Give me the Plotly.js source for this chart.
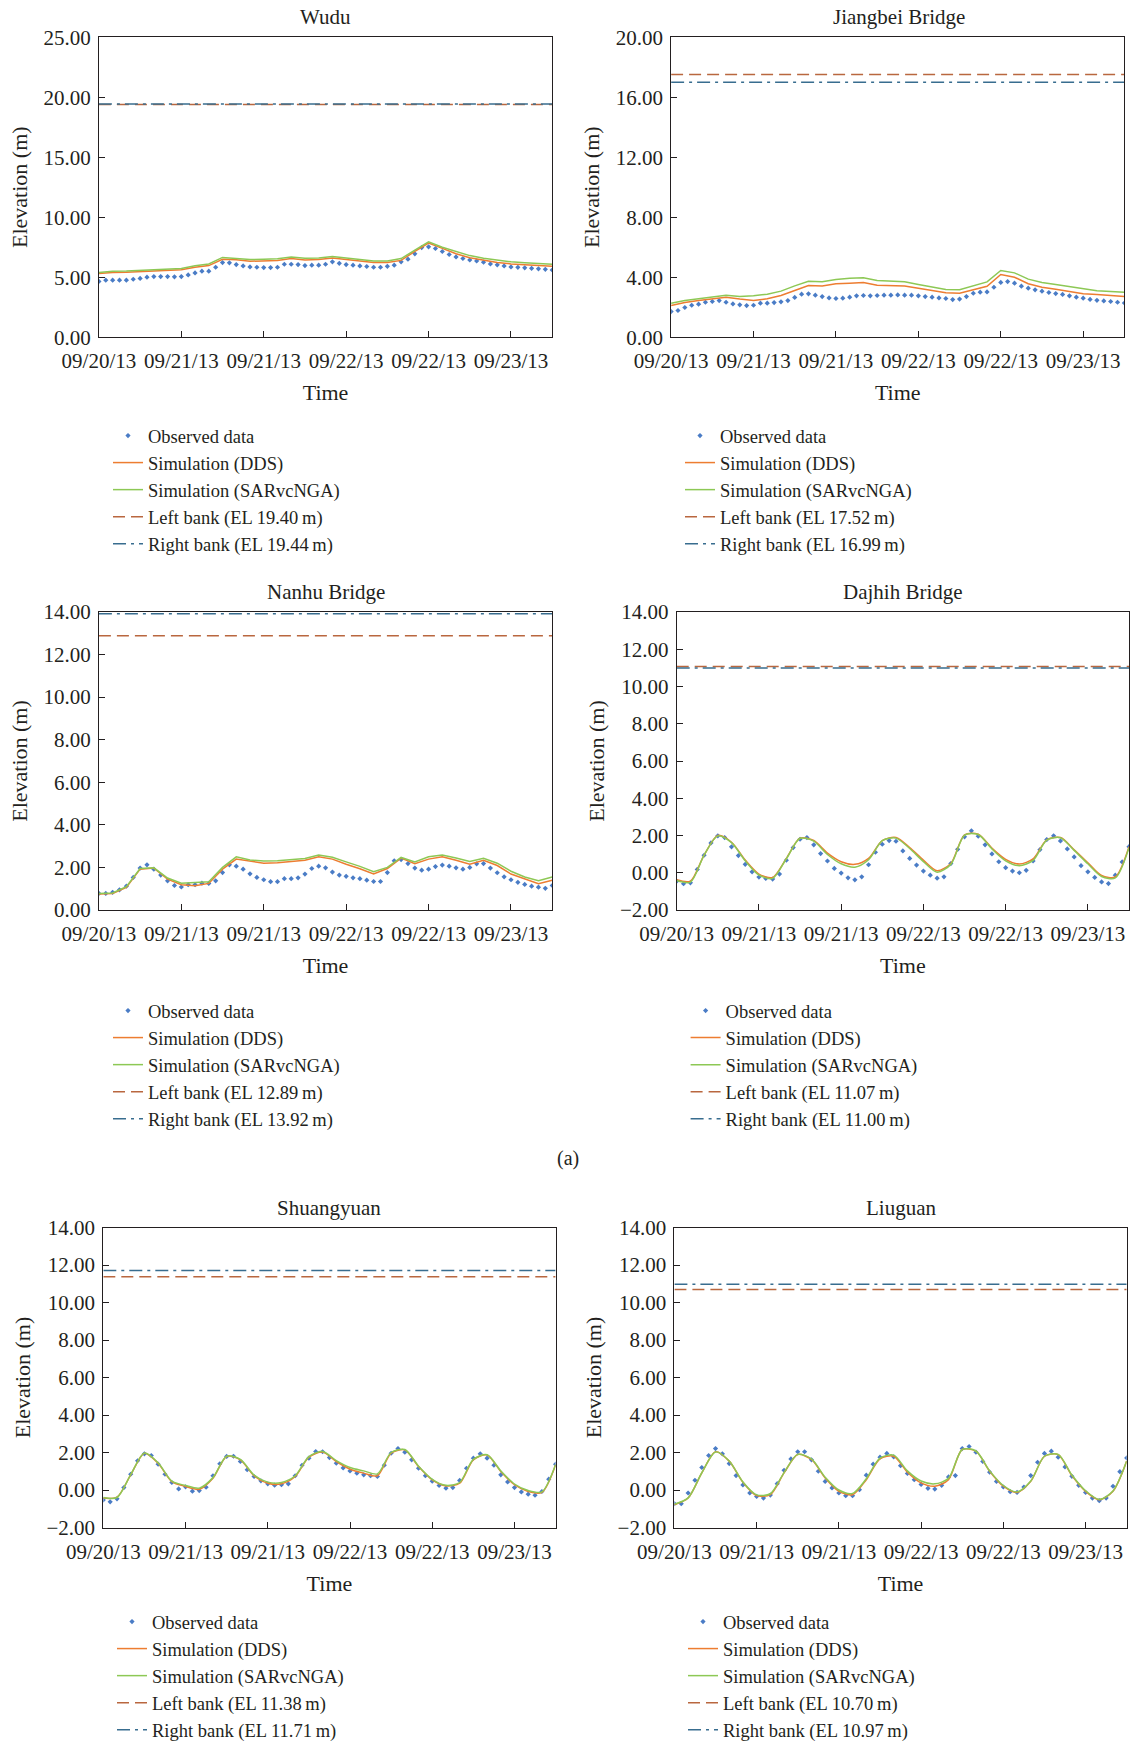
<!DOCTYPE html>
<html>
<head>
<meta charset="utf-8">
<script src="https://cdn.plot.ly/plotly-3.0.1.min.js"></script>
<style>
  html, body { margin: 0; padding: 0; background: #ffffff; overflow: hidden; }
  #frame { width: 1130px; height: 1742px; overflow: hidden; position: relative; }
  #chart { width: 1130px; height: 1760px; }
</style>
</head>
<body>
<div id="frame"><div id="chart"></div></div>
<script>
// ---------------- DATA (hourly observations, 2-hourly simulations) ----------------
const tickLabels = ["09/20/13", "09/21/13", "09/21/13", "09/22/13", "09/22/13", "09/23/13"];
const seriesNames = ["Observed data", "Simulation (DDS)", "Simulation (SARvcNGA)"];
const stationNames = ["Wudu", "Jiangbei Bridge", "Nanhu Bridge", "Dajhih Bridge", "Shuangyuan", "Liuguan"];

const wuduObs = [4.65,4.75,4.75,4.75,4.75,4.83,4.9,5.0,5.05,5.05,5.05,5.03,5.05,5.19,5.36,5.5,5.5,5.83,6.22,6.2,6.05,5.94,5.86,5.83,5.8,5.8,5.83,6.08,6.08,6.05,5.97,6.0,6.0,6.08,6.28,6.16,6.05,6.0,5.94,5.89,5.83,5.83,5.91,6.0,6.28,6.5,6.95,7.47,7.53,7.39,7.14,6.89,6.69,6.56,6.44,6.36,6.25,6.11,6.03,5.94,5.86,5.82,5.78,5.74,5.7,5.66,5.6];
const wuduDDS = [5.31,5.4,5.42,5.48,5.55,5.6,5.62,5.83,5.97,6.5,6.45,6.33,6.36,6.39,6.56,6.44,6.47,6.6,6.48,6.36,6.22,6.22,6.4,7.15,7.85,7.4,6.95,6.62,6.4,6.22,6.11,6.05,5.98,5.92];
const wuduSAR = [5.4,5.5,5.52,5.58,5.65,5.7,5.72,5.95,6.1,6.65,6.58,6.47,6.5,6.53,6.68,6.57,6.6,6.72,6.6,6.48,6.35,6.35,6.55,7.25,7.95,7.5,7.12,6.8,6.58,6.4,6.28,6.2,6.14,6.08];

const jiangbeiObs = [1.71,1.78,1.98,2.13,2.2,2.33,2.38,2.44,2.33,2.22,2.16,2.11,2.13,2.27,2.27,2.31,2.36,2.44,2.65,2.87,2.89,2.8,2.71,2.62,2.58,2.6,2.67,2.76,2.78,2.76,2.78,2.8,2.8,2.82,2.8,2.8,2.76,2.71,2.67,2.62,2.58,2.51,2.54,2.71,2.93,3.0,3.02,3.33,3.65,3.71,3.6,3.4,3.27,3.16,3.07,2.98,2.91,2.85,2.76,2.67,2.6,2.52,2.46,2.42,2.38,2.33,2.28];
const jiangbeiDDS = [2.11,2.31,2.44,2.56,2.67,2.54,2.44,2.56,2.78,3.11,3.45,3.42,3.56,3.6,3.65,3.47,3.47,3.42,3.27,3.11,2.96,2.93,3.18,3.4,4.18,4.0,3.56,3.33,3.2,3.07,2.89,2.84,2.78,2.72];
const jiangbeiSAR = [2.26,2.44,2.56,2.67,2.8,2.71,2.76,2.87,3.07,3.42,3.73,3.69,3.84,3.93,3.96,3.78,3.73,3.69,3.51,3.33,3.18,3.16,3.45,3.69,4.45,4.29,3.87,3.65,3.51,3.38,3.2,3.1,3.05,3.0];

const nanhuObs = [0.78,0.78,0.83,0.95,1.12,1.53,1.97,2.12,1.92,1.64,1.37,1.15,1.08,1.19,1.19,1.26,1.25,1.37,1.76,2.12,2.06,1.92,1.7,1.53,1.42,1.33,1.33,1.47,1.47,1.51,1.69,1.95,2.06,1.98,1.78,1.64,1.58,1.51,1.47,1.4,1.34,1.34,1.76,2.31,2.37,2.18,1.97,1.87,1.92,2.04,2.11,2.06,1.98,1.92,2.0,2.17,2.18,1.97,1.75,1.56,1.42,1.3,1.2,1.12,1.07,1.02,1.15];
const nanhuDDS = [0.75,0.78,1.06,1.92,1.97,1.45,1.19,1.14,1.25,1.92,2.39,2.28,2.2,2.22,2.28,2.34,2.5,2.39,2.15,1.94,1.69,1.95,2.44,2.18,2.39,2.5,2.34,2.15,2.34,2.09,1.69,1.45,1.24,1.4];
const nanhuSAR = [0.78,0.8,1.1,1.95,1.98,1.5,1.26,1.28,1.33,2.0,2.5,2.35,2.3,2.31,2.37,2.42,2.58,2.48,2.26,2.05,1.8,2.0,2.47,2.26,2.5,2.58,2.44,2.28,2.43,2.2,1.82,1.55,1.38,1.55];

const dajhihObs = [-0.45,-0.59,-0.54,0.18,0.94,1.6,1.98,1.89,1.39,0.92,0.45,0.05,-0.23,-0.31,-0.34,-0.07,0.67,1.35,1.8,1.89,1.5,1.03,0.63,0.23,-0.02,-0.27,-0.38,-0.22,0.43,1.1,1.53,1.73,1.69,1.17,0.77,0.41,0.09,-0.13,-0.29,-0.22,0.49,1.26,1.93,2.25,1.96,1.5,1.01,0.59,0.27,0.09,0.0,0.13,0.63,1.24,1.78,1.98,1.71,1.28,0.85,0.38,0.05,-0.25,-0.49,-0.58,-0.13,0.58,1.4];
const dajhihDDS = [-0.38,-0.45,0.95,2.0,1.64,0.68,-0.07,-0.25,0.77,1.86,1.73,1.05,0.59,0.45,0.77,1.73,1.89,1.35,0.68,0.11,0.5,2.04,2.07,1.32,0.72,0.47,0.74,1.77,1.89,1.23,0.54,-0.15,-0.22,1.4];
const dajhihSAR = [-0.42,-0.5,0.95,1.98,1.62,0.64,-0.12,-0.3,0.75,1.85,1.7,0.98,0.48,0.3,0.7,1.72,1.86,1.3,0.6,0.03,0.45,2.02,2.05,1.28,0.64,0.38,0.66,1.75,1.88,1.2,0.48,-0.2,-0.28,1.35];

const shuangyuanObs = [-0.53,-0.63,-0.47,0.13,0.84,1.56,1.93,1.84,1.38,0.84,0.4,0.06,0.17,-0.06,-0.03,0.15,0.76,1.4,1.79,1.8,1.52,1.08,0.72,0.49,0.33,0.26,0.28,0.33,0.76,1.32,1.7,2.05,2.04,1.73,1.43,1.18,1.02,0.9,0.81,0.76,0.72,1.32,1.96,2.21,2.02,1.61,1.16,0.76,0.47,0.24,0.1,0.13,0.51,1.16,1.7,1.93,1.7,1.32,0.81,0.43,0.13,-0.1,-0.22,-0.28,-0.08,0.58,1.38];
const shuangyuanDDS = [-0.43,-0.38,0.81,1.96,1.43,0.45,0.19,0.04,0.63,1.79,1.61,0.76,0.36,0.33,0.72,1.75,2.02,1.52,1.11,0.9,0.76,1.96,2.14,1.25,0.54,0.22,0.36,1.61,1.87,0.99,0.28,-0.08,-0.13,1.34];
const shuangyuanSAR = [-0.4,-0.4,0.82,1.97,1.45,0.47,0.24,0.1,0.66,1.8,1.63,0.8,0.42,0.4,0.76,1.78,2.06,1.57,1.2,1.02,0.86,2.0,2.16,1.27,0.57,0.25,0.4,1.63,1.88,1.02,0.32,-0.03,-0.1,1.36];

const liuguanObs = [-0.73,-0.73,-0.16,0.52,1.2,1.84,2.21,1.93,1.41,0.77,0.27,-0.16,-0.34,-0.43,-0.27,0.34,1.05,1.66,2.04,2.04,1.61,1.0,0.46,0.11,-0.16,-0.3,-0.3,0.02,0.79,1.38,1.75,1.95,1.77,1.3,0.88,0.55,0.3,0.09,0.05,0.25,0.7,0.77,2.21,2.32,2.02,1.52,0.95,0.46,0.16,-0.09,-0.13,0.16,0.77,1.48,1.95,2.07,1.75,1.23,0.73,0.25,-0.13,-0.43,-0.57,-0.43,0.2,0.98,1.71];
const liuguanDDS = [-0.79,-0.43,0.91,2.04,1.54,0.41,-0.3,-0.25,0.91,1.89,1.63,0.64,-0.07,-0.25,0.55,1.66,1.8,0.95,0.38,0.2,0.55,2.16,2.07,1.0,0.2,-0.13,0.46,1.8,1.89,0.77,-0.07,-0.52,-0.07,1.54];
const liuguanSAR = [-0.76,-0.42,0.92,2.03,1.55,0.43,-0.26,-0.2,0.93,1.9,1.66,0.68,0.0,-0.18,0.6,1.7,1.86,1.02,0.48,0.33,0.62,2.16,2.08,1.02,0.24,-0.1,0.48,1.8,1.9,0.8,-0.04,-0.5,-0.05,1.55];

const leftBankEL  = [19.40, 17.52, 12.89, 11.07, 11.38, 10.70];
const rightBankEL = [19.44, 16.99, 13.92, 11.00, 11.71, 10.97];

// ---------------- time grid (start 09/20/13 12:00, hourly) ----------------
function stamp(h) {
  const total = 12 + h;
  const day = 20 + Math.floor(total / 24);
  const hr = total % 24;
  return "2013-09-" + day + " " + String(hr).padStart(2, "0") + ":00";
}
const obsTimes = wuduObs.map((_, i) => stamp(i));
const simTimes = wuduDDS.map((_, i) => stamp(2 * i));
const tStart = stamp(0), tEnd = stamp(66);

// ---------------- layout helpers (pixel -> paper) ----------------
// Plot paper is a little taller than the visible 1742 px frame so the
// bottom legends are not pushed upward; everything is placed in pixels from the top.
const W = 1130, H = 1760;
const px = v => v / W;
const py = v => 1 - v / H;

const FONT = '"Liberation Serif", "Times New Roman", serif';
const INK = '#231f20';
const C_OBS = '#4a7cc6', C_DDS = '#ed7d31', C_SAR = '#8dc855', C_LEFT = '#b9673f', C_RIGHT = '#386d8f';

const panels = [
  {obs: wuduObs, dds: wuduDDS, sar: wuduSAR, yr: [0, 25], dt: 5, box: [98.9, 552.2, 37.2, 337.2], leg: [108, 417], ttl: [325.5, 17]},
  {obs: jiangbeiObs, dds: jiangbeiDDS, sar: jiangbeiSAR, yr: [0, 20], dt: 4, box: [671.1, 1124.4, 37.2, 337.2], leg: [680, 417], ttl: [899, 17]},
  {obs: nanhuObs, dds: nanhuDDS, sar: nanhuSAR, yr: [0, 14], dt: 2, box: [98.9, 552.2, 612, 910], leg: [108, 992], ttl: [325.5, 592]},
  {obs: dajhihObs, dds: dajhihDDS, sar: dajhihSAR, yr: [-2, 14], dt: 2, box: [676.7, 1129, 612, 910], leg: [685.6, 992], ttl: [903, 592]},
  {obs: shuangyuanObs, dds: shuangyuanDDS, sar: shuangyuanSAR, yr: [-2, 14], dt: 2, box: [103.3, 555.6, 1227.5, 1527.5], leg: [112, 1603], ttl: [329, 1208]},
  {obs: liuguanObs, dds: liuguanDDS, sar: liuguanSAR, yr: [-2, 14], dt: 2, box: [674.4, 1126.7, 1227.5, 1527.5], leg: [683, 1603], ttl: [901, 1208]}
];

const data = [];
const layout = {
  width: W, height: H,
  margin: {l: 0, r: 0, t: 0, b: 0},
  paper_bgcolor: '#ffffff', plot_bgcolor: '#ffffff',
  font: {family: FONT, color: INK, size: 20},
  showlegend: true,
  annotations: []
};

panels.forEach((p, k) => {
  const n = k + 1;
  const xa = 'x' + (n === 1 ? '' : n), ya = 'y' + (n === 1 ? '' : n);
  const lg = 'legend' + (n === 1 ? '' : n);
  const tidal = k >= 3;
  data.push({
    type: 'scatter', mode: 'markers', name: seriesNames[0], x: obsTimes, y: p.obs,
    xaxis: xa, yaxis: ya, legend: lg,
    marker: {symbol: 'diamond', size: 4, color: C_OBS}
  });
  data.push({
    type: 'scatter', mode: 'lines', name: seriesNames[1], x: simTimes, y: p.dds,
    xaxis: xa, yaxis: ya, legend: lg,
    line: {color: C_DDS, width: 1.5, shape: tidal ? 'spline' : 'linear', smoothing: 0.8}
  });
  data.push({
    type: 'scatter', mode: 'lines', name: seriesNames[2], x: simTimes, y: p.sar,
    xaxis: xa, yaxis: ya, legend: lg,
    line: {color: C_SAR, width: 1.5, shape: tidal ? 'spline' : 'linear', smoothing: 0.8}
  });
  data.push({
    type: 'scatter', mode: 'lines', name: 'Left bank (EL ' + leftBankEL[k].toFixed(2) + '\u2009m)',
    x: [tStart, tEnd], y: [leftBankEL[k], leftBankEL[k]],
    xaxis: xa, yaxis: ya, legend: lg,
    line: {color: C_LEFT, width: 1.5, dash: '12px,6px'}
  });
  data.push({
    type: 'scatter', mode: 'lines', name: 'Right bank (EL ' + rightBankEL[k].toFixed(2) + '\u2009m)',
    x: [tStart, tEnd], y: [rightBankEL[k], rightBankEL[k]],
    xaxis: xa, yaxis: ya, legend: lg,
    line: {color: C_RIGHT, width: 1.5, dash: '13px,5px,3px,5px'}
  });

  const [l, r, t, b] = p.box;
  layout['xaxis' + (n === 1 ? '' : n)] = {
    type: 'date', domain: [px(l), px(r)], anchor: ya,
    range: [tStart, tEnd], tickmode: 'array',
    tickvals: [stamp(0), stamp(12), stamp(24), stamp(36), stamp(48), stamp(60)],
    ticktext: tickLabels,
    ticks: 'inside', ticklen: 6, tickcolor: INK, tickwidth: 1,
    ticklabelstandoff: 5,
    showline: true, linecolor: INK, linewidth: 1, mirror: true,
    showgrid: false, zeroline: false,
    tickfont: {family: FONT, size: 21, color: INK},
    title: {text: 'Time', font: {family: FONT, size: 22, color: INK}, standoff: 12},
    fixedrange: true
  };
  layout['yaxis' + (n === 1 ? '' : n)] = {
    domain: [py(b), py(t)], anchor: xa,
    range: p.yr, dtick: p.dt, tick0: 0, tickformat: '.2f',
    ticks: 'inside', ticklen: 6, tickcolor: INK, tickwidth: 1,
    ticklabelstandoff: 3,
    showline: true, linecolor: INK, linewidth: 1, mirror: true,
    showgrid: false, zeroline: false,
    tickfont: {family: FONT, size: 21, color: INK},
    title: {text: 'Elevation (m)', font: {family: FONT, size: 22, color: INK}, standoff: 9},
    fixedrange: true
  };
  layout[lg] = {
    x: px(p.leg[0]), y: py(p.leg[1]), xanchor: 'left', yanchor: 'top',
    bgcolor: 'rgba(0,0,0,0)', borderwidth: 0,
    font: {family: FONT, size: 18.5, color: INK},
    traceorder: 'normal', itemwidth: 30
  };
  layout.annotations.push({
    text: stationNames[k], xref: 'paper', yref: 'paper',
    x: px(p.ttl[0]), y: py(p.ttl[1]), xanchor: 'center', yanchor: 'middle',
    showarrow: false, font: {family: FONT, size: 21, color: INK}
  });
});

layout.annotations.push({
  text: '(a)', xref: 'paper', yref: 'paper', x: px(568), y: py(1158),
  xanchor: 'center', yanchor: 'middle', showarrow: false,
  font: {family: FONT, size: 20, color: INK}
});

Plotly.newPlot('chart', data, layout, {staticPlot: true, displayModeBar: false});
</script>
</body>
</html>
